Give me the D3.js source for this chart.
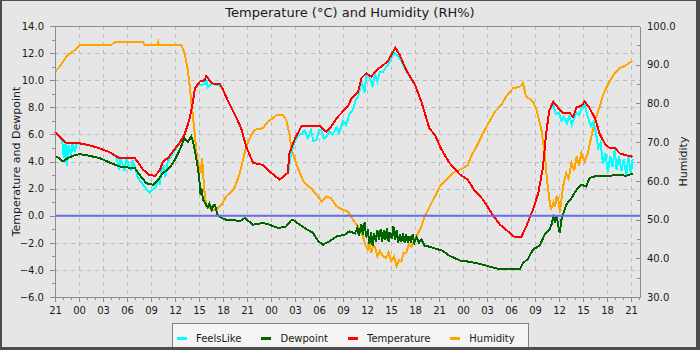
<!DOCTYPE html>
<html>
<head>
<meta charset="utf-8">
<script src="https://cdn.jsdelivr.net/npm/d3@7"></script>
<style>
  html, body { margin: 0; padding: 0; background: #e6e6e6; }
  svg { display: block; font-family: "DejaVu Sans", sans-serif; }
</style>
</head>
<body>
<svg id="chart" width="700" height="350"></svg>
<script>
// ---- Data (hours since 21:00 on day 1, value) ----
const startHour = 21;
const hourTicks = d3.range(0, 73, 3);          // labelled x ticks
const hourMinorTicks = d3.range(0, 74, 1);     // minor x ticks
const leftTicks = [-6, -4, -2, 0, 2, 4, 6, 8, 10, 12, 14];
const leftMinorTicks = [-5, -3, -1, 1, 3, 5, 7, 9, 11, 13];
const rightTicks = [30, 40, 50, 60, 70, 80, 90, 100];
const rightMinorTicks = [35, 45, 55, 65, 75, 85, 95];

const temperature = [
  [0,6.2],[0.5,5.9],[1.2,5.45],[1.6,5.35],[3,5.35],[4.3,5.2],[5.4,5.0],[6.8,4.7],[7.9,4.3],[8.2,4.25],
  [10,4.25],[10.3,4.0],[11,3.4],[11.8,3.0],[12.5,2.95],[13.1,3.35],[13.5,4.0],[14.1,4.25],[14.75,4.75],
  [15.6,5.4],[16.2,6.0],[16.8,7.1],[17.2,8.3],[17.5,9.4],[18.1,9.9],[18.7,10.0],[18.9,10.3],[19.3,10.0],
  [19.75,9.75],[20.6,9.75],[21,9.3],[21.8,8.25],[22.7,7.2],[23.3,6.4],[23.9,5.1],[24.75,3.9],[26,3.75],
  [26.8,3.27],[28.1,2.65],[28.7,3.0],[29.1,3.15],[29.3,4.6],[30,5.7],[30.8,6.6],[33.1,6.63],[33.9,6.2],
  [34.5,6.55],[35.2,7.2],[36,7.7],[36.6,8.05],[37.05,8.65],[37.9,9.15],[38.3,10.15],[38.9,10.5],
  [39.55,10.27],[40.2,10.75],[41,11.1],[41.6,11.4],[42.25,12.1],[42.55,12.4],[43.1,11.85],[43.9,10.75],
  [45,9.65],[45.8,8.4],[46.8,6.45],[47.5,5.95],[48.3,4.9],[49.3,3.9],[50.6,3.05],[51.6,2.65],[52.5,1.8],
  [53.5,1.2],[54.55,0.2],[55.6,-0.65],[56.6,-1.15],[57.5,-1.6],[58.3,-1.55],[58.9,-0.8],[59.75,0.45],
  [60.4,1.65],[61,3.6],[61.4,6.1],[61.8,7.8],[62.3,8.4],[62.9,7.95],[63.5,7.6],[64.3,7.6],[64.75,7.3],
  [65.2,8.0],[65.8,8.1],[66.2,8.45],[66.8,7.95],[67.5,7.2],[68.1,6.0],[68.7,5.35],[69.3,5.0],[69.96,5.0],
  [70.6,4.6],[71.4,4.45],[72.2,4.35]
];

const feelsLike = [
  [0,6.2],[0.5,5.9],[0.9,5.5],[1.1,4.3],[1.3,5.4],[1.5,3.7],[1.7,5.2],[2.0,4.4],[2.2,5.3],[2.5,4.7],
  [2.7,5.35],[4.3,5.2],[5.4,5.0],[6.8,4.7],[7.7,4.3],[8.0,3.4],[8.2,4.25],[8.7,3.3],[8.9,4.25],[9.5,3.3],
  [9.7,4.1],[10.0,3.6],[10.3,2.9],[10.6,2.6],[11.0,2.3],[11.4,2.0],[11.8,1.7],[12.2,1.9],[12.6,2.1],
  [12.9,2.8],[13.1,2.3],[13.3,3.3],[13.6,3.6],[13.8,2.9],[14.1,4.0],[14.75,4.6],[15.6,5.4],[16.2,6.0],
  [16.8,7.1],[17.2,8.3],[17.5,9.4],[17.8,9.6],[18.1,9.65],[18.7,9.7],[18.9,10.1],[19.1,9.5],[19.5,9.75],
  [20.6,9.6],[21,9.3],[21.8,8.25],[22.7,7.2],[23.3,6.4],[23.9,5.1],[24.75,3.9],[26,3.75],[26.8,3.27],
  [28.1,2.65],[28.7,3.0],[29.1,3.15],[29.2,3.3],[29.5,4.6],[30,5.5],[30.5,6.0],[30.8,6.0],[31.2,6.3],
  [31.6,5.7],[32,6.3],[32.3,5.5],[32.7,5.6],[33.0,6.3],[33.3,6.3],[33.6,5.7],[33.9,5.8],[34.3,6.2],
  [34.7,6.0],[35.2,6.5],[35.5,6.1],[36.0,7.0],[36.4,6.7],[36.8,7.5],[37.3,7.9],[37.6,8.6],[37.9,8.8],
  [38.1,9.3],[38.3,9.9],[38.5,9.5],[38.7,9.1],[38.9,10.3],[39.3,10.2],[39.7,9.6],[40,10.5],[40.3,9.9],
  [40.6,10.6],[41,10.6],[41.3,10.9],[41.6,11.1],[42.25,11.9],[42.55,12.0],[43.1,11.6],[43.9,10.7],
  [45,9.65],[45.8,8.4],[46.8,6.45],[47.5,5.95],[48.3,4.9],[49.3,3.9],[50.6,3.05],[51.6,2.65],[52.5,1.8],
  [53.5,1.2],[54.55,0.2],[55.6,-0.65],[56.6,-1.15],[57.5,-1.6],[58.3,-1.55],[58.9,-0.8],[59.75,0.45],
  [60.4,1.65],[61,3.6],[61.4,6.1],[61.8,7.8],[62.3,8.2],[62.6,7.5],[63,7.6],[63.3,7.0],[63.6,7.3],
  [64,6.8],[64.3,7.4],[64.6,6.7],[64.9,7.2],[65.2,7.6],[65.5,7.4],[65.8,7.9],[66.2,8.2],[66.6,7.3],
  [67,6.6],[67.3,6.9],[67.6,6.2],[67.9,5.0],[68.2,5.4],[68.5,3.8],[68.8,4.6],[69.1,3.2],[69.4,4.4],
  [69.7,3.6],[69.96,4.9],[70.2,3.4],[70.5,4.4],[70.8,3.3],[71.1,4.2],[71.4,3.0],[71.7,4.3],[72,3.1],
  [72.2,4.2]
];

const dewpoint = [
  [0,4.4],[0.5,4.25],[1,4.0],[1.6,4.25],[2.25,4.42],[3.1,4.55],[4.3,4.42],[5.6,4.25],[6.8,3.93],
  [8.1,3.63],[10,3.5],[10.6,3.0],[11.4,2.4],[12.25,2.28],[12.9,2.65],[13.5,3.15],[14.1,3.4],[14.75,3.88],
  [15.4,4.6],[16.2,5.73],[16.6,5.45],[17.05,5.85],[17.3,5.35],[17.7,4.1],[18,2.9],[18.2,1.5],[18.3,2.0],
  [18.5,1.18],[18.8,0.9],[19.1,0.6],[19.3,0.9],[19.6,0.4],[19.8,0.75],[20,0.8],[20.3,0.1],[20.6,-0.1],
  [21,-0.2],[21.4,-0.3],[22.25,-0.3],[23.1,-0.42],[23.7,-0.17],[24.2,-0.4],[24.75,-0.66],[26,-0.54],
  [26.8,-0.66],[27.9,-0.91],[28.9,-0.79],[29.5,-0.35],[29.75,-0.3],[30.4,-0.59],[31.2,-0.91],
  [32.25,-1.27],[32.9,-1.89],[33.5,-2.14],[34.3,-1.89],[35.2,-1.53],[36.2,-1.4],[36.8,-1.16],
  [37.5,-1.3],[37.8,-0.9],[38.0,-1.5],[38.3,-0.6],[38.5,-1.4],[38.7,-0.5],[38.9,-1.6],[39.1,-1.0],
  [39.3,-2.1],[39.5,-1.2],[39.7,-2.2],[39.9,-1.3],[40.1,-1.9],[40.3,-1.1],[40.5,-1.8],[40.7,-1.0],
  [40.9,-1.9],[41.1,-1.1],[41.3,-1.8],[41.5,-0.9],[41.7,-1.9],[41.9,-1.2],[42.1,-1.7],[42.3,-0.8],
  [42.5,-1.8],[42.7,-1.1],[42.9,-2.0],[43.1,-1.4],[43.3,-1.9],[43.5,-1.3],[43.7,-2.0],[43.9,-1.4],
  [44.1,-2.0],[44.3,-1.5],[44.5,-2.0],[44.7,-1.4],[44.9,-2.0],[45.2,-1.6],[45.5,-2.0],[45.8,-1.75],
  [46.2,-2.2],[46.6,-2.26],[47.7,-2.45],[48.5,-2.6],[49.3,-2.95],[50.6,-3.3],[51.8,-3.4],[53.1,-3.55],
  [54.3,-3.75],[55.6,-3.95],[56.8,-3.9],[58.1,-3.95],[58.5,-3.5],[59.1,-3.2],[59.75,-2.5],[60.6,-2.2],
  [61.2,-1.4],[61.8,-1.03],[62.1,-0.6],[62.3,-0.05],[62.5,-0.4],[62.7,0.0],[62.9,-0.7],[63.1,-1.27],
  [63.3,-0.3],[63.5,0.1],[63.9,0.81],[64.55,1.3],[65.2,1.92],[65.8,2.28],[66.4,2.16],[66.8,2.78],
  [67.5,2.9],[68.9,2.9],[70.2,3.02],[71.4,2.95],[72.2,3.1]
];

const humidity = [
  [0,88.2],[0.6,89.5],[1,90.8],[1.6,92.5],[2.25,93.4],[3.1,95.1],[7.05,95.1],[7.5,95.9],[11,95.9],
  [11.2,95.1],[12.8,95.1],[12.9,95.9],[13.0,95.1],[15.8,95.1],[16.2,93],[16.6,88.6],[16.85,84.3],
  [17.05,80.1],[17.25,76.6],[17.5,71.4],[17.7,67.2],[18,63.3],[18.2,62],[18.4,66],[18.5,62],[18.7,57],
  [18.9,53.4],[19.3,53.0],[19.75,52.5],[20.3,52.8],[20.8,53.8],[21.4,56],[22.25,57.7],[22.5,58.5],
  [23.1,62],[23.5,65.4],[23.9,68.9],[24.55,71.9],[25,73.2],[26,73.6],[26.6,75.3],[27.25,76.2],[27.7,77],
  [28.5,77],[28.9,75.7],[29.3,72.3],[29.55,68.4],[30,65.4],[30.6,62],[31.2,59.4],[32,58.1],[32.7,56.4],
  [33.3,54.7],[33.9,56],[34.5,55.5],[35.2,53.4],[36,52.5],[36.6,52.1],[37.25,49.9],[37.9,48.2],
  [38.5,45.6],[38.8,43.5],[39.1,42.2],[39.3,44],[39.55,41.4],[39.8,43.5],[40,43],[40.3,40.5],[40.6,42],
  [41,40.5],[41.4,40.1],[41.7,41.5],[42.05,39.2],[42.4,40.5],[42.7,37.9],[43,39.5],[43.3,39.2],
  [43.6,41.5],[43.9,41.4],[44.2,43.5],[44.55,43],[45.2,45.6],[45.8,48.2],[46.2,50.8],[46.8,53.2],
  [47.5,56],[48.1,58.5],[48.9,60.3],[49.75,62],[51,63.3],[51.6,64.1],[52,66.3],[52.7,68.9],[53.5,72.3],
  [54.3,75.3],[55,77.9],[55.8,79.6],[56.4,81.8],[57.25,83.9],[58.1,84.3],[58.5,85.2],[58.9,81.8],
  [59.75,80.5],[60.2,78.3],[60.8,73.2],[61.2,67.2],[61.5,60.3],[61.8,55.1],[62,52.5],[62.3,54.5],
  [62.5,53.2],[62.7,56],[62.9,55.5],[63.1,52.1],[63.3,55],[63.5,58.5],[63.9,62],[64.2,60.5],[64.55,64.6],
  [64.9,62.5],[65.2,66.3],[65.5,64],[65.8,67.2],[66.2,65],[66.6,67.2],[67.1,71.9],[67.5,75.7],
  [68.1,79.2],[68.5,82.2],[69.3,85.6],[69.96,87.8],[70.6,89.1],[71.4,89.9],[72.2,91]
];

const seriesNames = ["FeelsLike", "Dewpoint", "Temperature", "Humidity"];
const seriesColors = ["#00ffff", "#006400", "#ff0000", "#ffa500"];

// ---- Layout ----
const W = 700, H = 350;
const plot = { left: 55, right: 640, top: 26, bottom: 297 };
const svg = d3.select("#chart");

svg.append("rect").attr("x", 0).attr("y", 0).attr("width", W).attr("height", H).attr("fill", "#e6e6e6");

const x = d3.scaleLinear().domain([0, 73.125]).range([plot.left, plot.right]);
const yL = d3.scaleLinear().domain([-6, 14]).range([plot.bottom, plot.top]);
const yR = d3.scaleLinear().domain([30, 100]).range([plot.bottom, plot.top]);

// grid
const grid = svg.append("g").attr("stroke", "#bcbcbc").attr("stroke-width", 1)
  .attr("stroke-dasharray", "4,4").attr("shape-rendering", "crispEdges");
grid.selectAll("line.v").data(hourTicks.filter(d => d > 0)).join("line")
  .attr("x1", d => Math.round(x(d)) + 0.5).attr("x2", d => Math.round(x(d)) + 0.5)
  .attr("y1", plot.top).attr("y2", plot.bottom);
grid.selectAll("line.h").data(leftTicks.filter(d => d > -6 && d < 14)).join("line")
  .attr("class", "h")
  .attr("x1", plot.left).attr("x2", plot.right)
  .attr("y1", d => Math.round(yL(d)) + 0.5).attr("y2", d => Math.round(yL(d)) + 0.5);

// top frame line
svg.append("line").attr("x1", plot.left).attr("x2", plot.right)
  .attr("y1", plot.top + 0.5).attr("y2", plot.top + 0.5)
  .attr("stroke", "#8c8c8c").attr("shape-rendering", "crispEdges");

// series
const line = (ys) => d3.line().x(d => x(d[0])).y(d => ys(d[1]));
const drawSeries = (data, ys, color) =>
  svg.append("path").datum(data).attr("d", line(ys)).attr("fill", "none")
    .attr("stroke", color).attr("stroke-width", 2).attr("stroke-linejoin", "miter")
    .attr("shape-rendering", "crispEdges");

drawSeries(humidity, yR, seriesColors[3]);
drawSeries(feelsLike, yL, seriesColors[0]);
drawSeries(dewpoint, yL, seriesColors[1]);
drawSeries(temperature, yL, seriesColors[2]);

// zero line
svg.append("line").attr("x1", plot.left).attr("x2", plot.right)
  .attr("y1", yL(0)).attr("y2", yL(0))
  .attr("stroke", "#6b6bee").attr("stroke-width", 2);

// axes
function styleAxis(g) {
  g.selectAll("path, line").attr("stroke", "#8c8c8c").attr("shape-rendering", "crispEdges");
  g.selectAll("text").attr("fill", "#1a1a1a").style("font-size", "10px")
    .style("font-family", "'DejaVu Sans', sans-serif");
}
const hourFmt = d => String((startHour + d) % 24).padStart(2, "0");

svg.append("g").attr("transform", `translate(0,${plot.bottom})`)
  .call(d3.axisBottom(x).tickValues(hourMinorTicks).tickSize(3).tickSizeOuter(0).tickFormat(""))
  .call(styleAxis);
svg.append("g").attr("transform", `translate(0,${plot.bottom})`)
  .call(d3.axisBottom(x).tickValues(hourTicks).tickSize(5).tickSizeOuter(0).tickPadding(5).tickFormat(hourFmt))
  .call(styleAxis);

svg.append("g").attr("transform", `translate(${plot.left},0)`)
  .call(d3.axisLeft(yL).tickValues(leftMinorTicks).tickSize(3).tickSizeOuter(0).tickFormat(""))
  .call(styleAxis);
svg.append("g").attr("transform", `translate(${plot.left},0)`)
  .call(d3.axisLeft(yL).tickValues(leftTicks).tickSize(5).tickSizeOuter(0).tickPadding(6).tickFormat(d3.format(".1f")))
  .call(styleAxis);

svg.append("g").attr("transform", `translate(${plot.right},0)`)
  .call(d3.axisRight(yR).tickValues(rightMinorTicks).tickSize(-3).tickSizeOuter(0).tickFormat(""))
  .call(styleAxis);
svg.append("g").attr("transform", `translate(${plot.right},0)`)
  .call(d3.axisRight(yR).tickValues(rightTicks).tickSize(-4).tickSizeOuter(0).tickPadding(7).tickFormat(d3.format(".1f")))
  .call(styleAxis);

// titles
svg.append("text").attr("x", 350).attr("y", 17).attr("text-anchor", "middle")
  .style("font-size", "13px").attr("fill", "#1a1a1a").text("Temperature (°C) and Humidity (RH%)");
svg.append("text").attr("transform", `translate(20,${(plot.top + plot.bottom) / 2}) rotate(-90)`)
  .attr("text-anchor", "middle").style("font-size", "11px").attr("fill", "#1a1a1a")
  .text("Temperature and Dewpoint");
svg.append("text").attr("transform", `translate(687,${(plot.top + plot.bottom) / 2}) rotate(-90)`)
  .attr("text-anchor", "middle").style("font-size", "11px").attr("fill", "#1a1a1a")
  .text("Humidity");

// legend
const legend = svg.append("g");
legend.append("rect").attr("x", 172.5).attr("y", 323.5).attr("width", 356).attr("height", 26)
  .attr("fill", "#f4f4f4").attr("stroke", "#808080").attr("shape-rendering", "crispEdges");
let lx = 177;
seriesNames.forEach((name, i) => {
  legend.append("line").attr("x1", lx).attr("x2", lx + 10).attr("y1", 338).attr("y2", 338)
    .attr("stroke", seriesColors[i]).attr("stroke-width", 3).attr("shape-rendering", "crispEdges");
  const t = legend.append("text").attr("x", lx + 19).attr("y", 341.5)
    .style("font-size", "10px").attr("fill", "#1a1a1a").text(name);
  lx += 19 + t.node().getComputedTextLength() + 20;
});

// outer border
const border = svg.append("g").attr("fill", "#4d4d4d");
border.append("rect").attr("x", 0).attr("y", 0).attr("width", W).attr("height", 1);
border.append("rect").attr("x", 0).attr("y", 0).attr("width", 2).attr("height", H);
border.append("rect").attr("x", W - 4).attr("y", 0).attr("width", 4).attr("height", H);
border.append("rect").attr("x", 0).attr("y", H - 3).attr("width", W).attr("height", 3);
</script>
</body>
</html>
